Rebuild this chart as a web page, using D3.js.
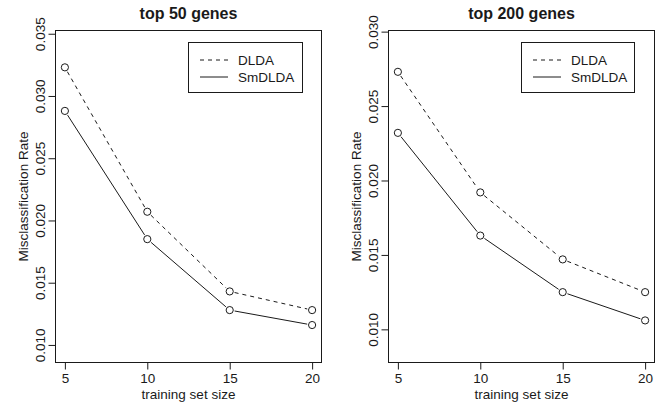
<!DOCTYPE html>
<html>
<head>
<meta charset="utf-8">
<script src="https://cdn.jsdelivr.net/npm/d3@7"></script>
<style>
  html,body{margin:0;padding:0;background:#fff;}
  svg{display:block;font-family:"Liberation Sans",Arial,Helvetica,sans-serif;}
</style>
</head>
<body>
<svg id="chart" width="660" height="406"></svg>
<script>
// ── DONNÉES ─────────────────────────────────────────────
var trainSizes=[5,10,15,20];
var xTicks=[5,10,15,20];
var seriesNames=["DLDA","SmDLDA"];
var panelTitles=["top 50 genes","top 200 genes"];

var top50Dlda=[0.0323,0.0207,0.0143,0.0128];
var top50Sm=[0.0288,0.0185,0.0128,0.0116];
var top200Dlda=[0.0273,0.0192,0.0147,0.0125];
var top200Sm=[0.0232,0.0163,0.0125,0.0106];

var top50Ticks=[0.010,0.015,0.020,0.025,0.030,0.035];
var top200Ticks=[0.010,0.015,0.020,0.025,0.030];

// ── MISE EN PAGE ────────────────────────────────────────
var INK="#1a1a1a";
var FS=13.5;
var panels=[
  {title:panelTitles[0],dlda:top50Dlda,sm:top50Sm,ticks:top50Ticks,
   x0:55,x1:322,yDom:[0.00855,0.0353],legX:188,legW:114},
  {title:panelTitles[1],dlda:top200Dlda,sm:top200Sm,ticks:top200Ticks,
   x0:388,x1:655,yDom:[0.00774,0.03011],legX:521,legW:113}
];
var Y0=30,Y1=363;

var svg=d3.select("#chart");

panels.forEach(function(p){
  var x=d3.scaleLinear().domain([4.4,20.6]).range([p.x0,p.x1]);
  var y=d3.scaleLinear().domain(p.yDom).range([Y1,Y0]);
  var g=svg.append("g");

  // cadre
  g.append("rect").attr("x",p.x0+0.5).attr("y",Y0+0.5)
    .attr("width",p.x1-p.x0-1).attr("height",Y1-Y0-1)
    .attr("fill","none").attr("stroke",INK).attr("stroke-width",1);

  // axe x
  var ax=g.append("g").attr("transform","translate(0,"+(Y1-0.5)+")")
    .call(d3.axisBottom(x).tickValues(xTicks).tickSize(7).tickSizeOuter(0).tickPadding(4).tickFormat(d3.format("d")));
  ax.select(".domain").remove();
  ax.selectAll("line").attr("stroke",INK);
  ax.selectAll("text").attr("font-size",FS).attr("fill",INK)
    .attr("font-family","Liberation Sans,Arial,sans-serif");

  // axe y (étiquettes tournées, façon R)
  var ay=g.append("g").attr("transform","translate("+(p.x0+0.5)+",0)")
    .call(d3.axisLeft(y).tickValues(p.ticks).tickSize(7).tickSizeOuter(0).tickFormat(d3.format(".3f")));
  ay.select(".domain").remove();
  ay.selectAll("line").attr("stroke",INK);
  ay.selectAll("text")
    .attr("font-size",FS).attr("fill",INK)
    .attr("font-family","Liberation Sans,Arial,sans-serif")
    .attr("x",null).attr("dy",null)
    .attr("text-anchor","middle")
    .attr("transform","translate(-11,0) rotate(-90)");

  // titres
  g.append("text").attr("x",(p.x0+p.x1)/2).attr("y",19)
    .attr("text-anchor","middle").attr("font-size",16).attr("font-weight","bold")
    .attr("fill",INK).text(p.title);
  g.append("text").attr("x",(p.x0+p.x1)/2).attr("y",399)
    .attr("text-anchor","middle").attr("font-size",FS).attr("fill",INK)
    .text("training set size");
  g.append("text")
    .attr("transform","translate("+(p.x0-27)+","+((Y0+Y1)/2)+") rotate(-90)")
    .attr("text-anchor","middle").attr("font-size",FS).attr("fill",INK)
    .text("Misclassification Rate");

  // séries (type="b" : segments interrompus autour des points)
  var series=[{vals:p.dlda,dash:"4,4"},{vals:p.sm,dash:null}];
  var gap=5;
  series.forEach(function(s){
    var pts=trainSizes.map(function(t,i){return [x(t),y(s.vals[i])];});
    for(var i=0;i<pts.length-1;i++){
      var a=pts[i],b=pts[i+1];
      var dx=b[0]-a[0],dy=b[1]-a[1],L=Math.sqrt(dx*dx+dy*dy);
      var ux=dx/L,uy=dy/L;
      g.append("line")
        .attr("x1",a[0]+ux*gap).attr("y1",a[1]+uy*gap)
        .attr("x2",b[0]-ux*gap).attr("y2",b[1]-uy*gap)
        .attr("stroke",INK).attr("stroke-width",1)
        .attr("stroke-dasharray",s.dash);
    }
    g.selectAll(null).data(pts).enter().append("circle")
      .attr("cx",function(d){return d[0];}).attr("cy",function(d){return d[1];})
      .attr("r",3.6).attr("fill","none").attr("stroke",INK).attr("stroke-width",1);
  });

  // légende
  var lg=g.append("g").attr("transform","translate("+p.legX+",42)");
  lg.append("rect").attr("x",0.5).attr("y",0.5).attr("width",p.legW).attr("height",50)
    .attr("fill","#fff").attr("stroke",INK).attr("stroke-width",1);
  seriesNames.forEach(function(n,i){
    var yy=18+i*17;
    lg.append("line").attr("x1",12).attr("x2",40).attr("y1",yy).attr("y2",yy)
      .attr("stroke",INK).attr("stroke-width",1)
      .attr("stroke-dasharray",i===0?"4,4":null);
    lg.append("text").attr("x",50).attr("y",yy+5).attr("font-size",FS)
      .attr("fill",INK).text(n);
  });
});
</script>
</body>
</html>
